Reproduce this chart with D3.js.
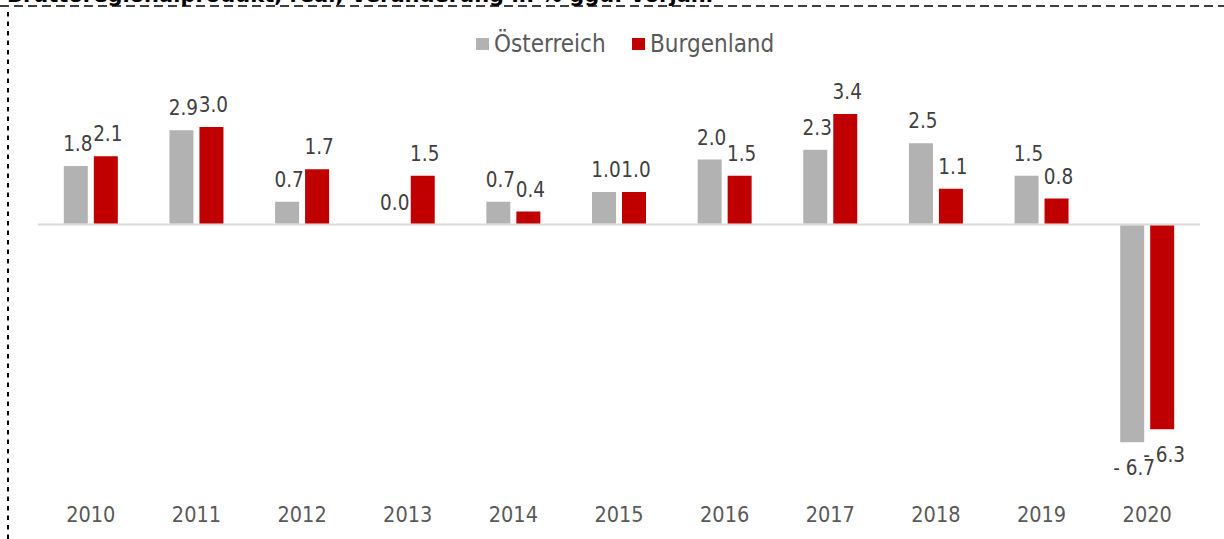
<!DOCTYPE html>
<html>
<head>
<meta charset="utf-8">
<script src="https://cdn.jsdelivr.net/npm/d3@7"></script>
<style>
  html, body { margin: 0; padding: 0; background: #fff; }
  svg { display: block; font-family: "DejaVu Sans Condensed", "DejaVu Sans", sans-serif; font-stretch: condensed; }
</style>
</head>
<body>
<div id="chart"></div>
<script>
// Bruttoregionalprodukt, real, Veränderung in % ggü. Vorjahr
const years = ["2010", "2011", "2012", "2013", "2014", "2015", "2016", "2017", "2018", "2019", "2020"];
const seriesNames = ["Österreich", "Burgenland"];
const oesterreich = [1.8, 2.9, 0.7, 0.0, 0.7, 1.0, 2.0, 2.3, 2.5, 1.5, -6.7];
const burgenland = [2.1, 3.0, 1.7, 1.5, 0.4, 1.0, 1.5, 3.4, 1.1, 0.8, -6.3];
const colors = ["#b2b2b2", "#c00000"];
const title = "Bruttoregionalprodukt, real, Veränderung in % ggü. Vorjahr";

const width = 1224, height = 539;

const data = years.map((y, i) => ({
    year: y,
    values: [
        { key: seriesNames[0], value: oesterreich[i] },
        { key: seriesNames[1], value: burgenland[i] }
    ]
}));

const svg = d3.select("#chart")
    .append("svg")
    .attr("width", width)
    .attr("height", height);

// titel (oben abgeschnitten) + gestrichelter rahmen
svg.append("text")
    .attr("x", 7)
    .attr("y", 2)
    .attr("font-size", 21)
    .attr("font-weight", "bold")
    .attr("font-family", "DejaVu Sans, sans-serif")
    .style("font-stretch", "normal")
    .attr("fill", "#000")
    .text(title);

svg.append("line")
    .attr("x1", 0).attr("x2", width)
    .attr("y1", 6).attr("y2", 6)
    .attr("stroke", "#000")
    .attr("stroke-width", 1.5)
    .attr("stroke-dasharray", "9,5");

svg.append("line")
    .attr("x1", 8).attr("x2", 8)
    .attr("y1", 12).attr("y2", height)
    .attr("stroke", "#000")
    .attr("stroke-width", 2)
    .attr("stroke-dasharray", "4.5,5");

const x = d3.scaleBand()
    .domain(years)
    .range([38, 1200]);

const bw = x.bandwidth();
const xInner = d3.scaleBand()
    .domain(seriesNames)
    .range([bw / 2 - 27, bw / 2 + 27])
    .paddingInner(0.2);

const y = d3.scaleLinear()
    .domain([-8, 6])
    .range([484.5, 29.5]);

const color = d3.scaleOrdinal().domain(seriesNames).range(colors);

const fmt = d => d < 0 ? "- " + d3.format(".1f")(-d) : d3.format(".1f")(d);

// nulllinie
svg.append("line")
    .attr("x1", x.range()[0]).attr("x2", x.range()[1])
    .attr("y1", y(0)).attr("y2", y(0))
    .attr("stroke", "#d9d9d9")
    .attr("stroke-width", 2);

const groups = svg.selectAll(".grp")
    .data(data)
    .enter()
    .append("g")
    .attr("class", "grp")
    .attr("transform", d => `translate(${x(d.year)},0)`);

groups.selectAll("rect")
    .data(d => d.values)
    .enter()
    .append("rect")
    .attr("x", d => xInner(d.key))
    .attr("width", xInner.bandwidth())
    .attr("y", d => d.value >= 0 ? y(d.value) : y(0) + 1)
    .attr("height", d => Math.abs(y(d.value) - y(0)) - 1)
    .attr("fill", d => color(d.key));

groups.selectAll("text")
    .data(d => d.values)
    .enter()
    .append("text")
    .attr("x", d => xInner(d.key) + xInner.bandwidth() / 2 + 2)
    .attr("y", d => d.value >= 0 ? y(d.value) - 15 : y(d.value) + 33)
    .attr("text-anchor", "middle")
    .attr("font-size", 20.5)
    .attr("fill", "#404040")
    .text(d => fmt(d.value));

// x-achse (nur beschriftung)
const xAxis = d3.axisBottom(x).tickSize(0).tickPadding(0);
const gx = svg.append("g")
    .attr("transform", "translate(0,522)")
    .call(xAxis);
gx.select(".domain").remove();
gx.selectAll("text")
    .attr("dy", 0)
    .attr("font-size", 21.5)
    .attr("font-family", "DejaVu Sans Condensed, DejaVu Sans, sans-serif")
    .attr("fill", "#595959");

// legende
const legend = svg.append("g").attr("transform", "translate(476,38)");
const legendX = [0, 156];
seriesNames.forEach((s, i) => {
    const lg = legend.append("g").attr("transform", `translate(${legendX[i]},0)`);
    lg.append("rect")
        .attr("width", 13).attr("height", 12)
        .attr("fill", colors[i]);
    lg.append("text")
        .attr("x", 18)
        .attr("y", 14)
        .attr("font-size", 24)
        .attr("fill", "#595959")
        .text(s);
});
</script>
</body>
</html>
